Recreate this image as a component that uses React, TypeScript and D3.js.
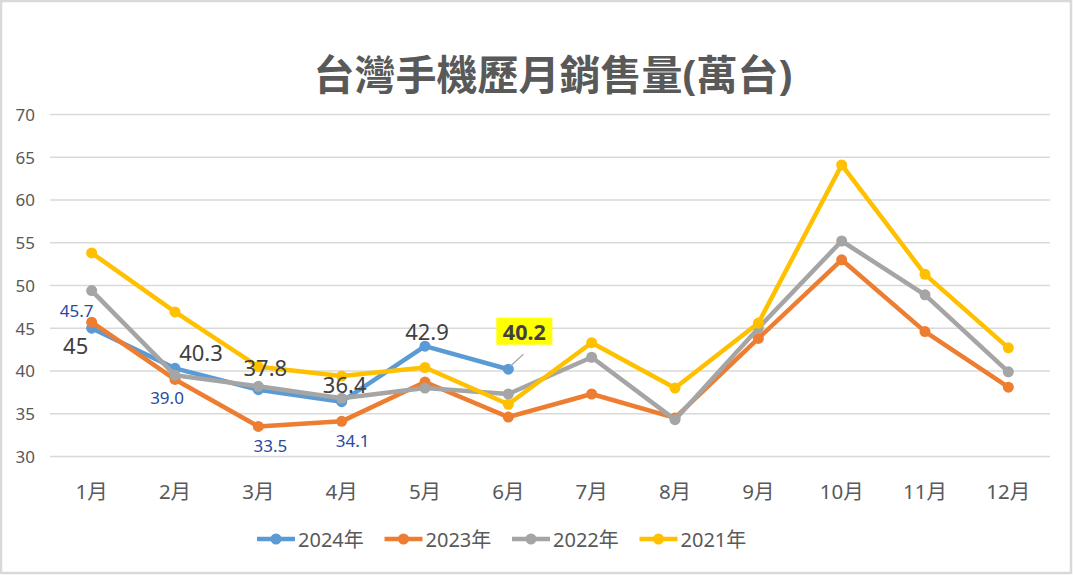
import React from 'react';
import * as d3 from 'd3';

const months = ['1月', '2月', '3月', '4月', '5月', '6月', '7月', '8月', '9月', '10月', '11月', '12月'];
const seriesNames = ['2024年', '2023年', '2022年', '2021年'];
const sales2024 = [45, 40.3, 37.8, 36.4, 42.9, 40.2];
const sales2023 = [45.7, 39.0, 33.5, 34.1, 38.7, 34.6, 37.3, 34.5, 43.8, 53.0, 44.6, 38.1];
const sales2022 = [49.4, 39.5, 38.2, 36.8, 38.0, 37.3, 41.6, 34.3, 45.0, 55.2, 48.9, 39.9];
const sales2021 = [53.8, 46.9, 40.5, 39.4, 40.4, 36.1, 43.3, 38.0, 45.6, 64.1, 51.3, 42.7];
const yTicks = [30, 35, 40, 45, 50, 55, 60, 65, 70];
const colors = ['#5b9bd5', '#ed7d31', '#a5a5a5', '#ffc000'];

// label offsets from the point (layout only)
const off2024 = [[-16, 17], [26, -16], [7, -23], [3, -18], [2, -15], [16, -38]];
const off2023 = [[-15, -12], [-8, 18], [12, 19], [11, 19]];

const W = 1073, H = 575;
const font = '"Noto Sans", "Noto Sans CJK TC", sans-serif';

export default function App() {
  const x = d3.scaleBand<string>().domain(months).range([50, 1050]);
  const cx = (i: number) => (x(months[i]) as number) + x.bandwidth() / 2;
  const y = d3.scaleLinear().domain([30, 70]).range([456.4, 114.5]);
  const line = d3.line<number>().x((_, i) => cx(i)).y(d => y(d));
  const all = [sales2024, sales2023, sales2022, sales2021];

  const p6 = [cx(5), y(sales2024[5])];
  const box = [p6[0] + off2024[5][0], p6[1] + off2024[5][1]];

  return (
    <div style={{ position: 'absolute', left: 0, top: 0 }}>
      <svg width={W} height={H} style={{ display: 'block', fontFamily: font }}>
        <rect x={0} y={0} width={W} height={H} fill="#fff" />
        <rect x={1} y={1} width={W - 3} height={H - 3} fill="none" stroke="#d9d9d9" strokeWidth={2.5} />
        <text x={553} y={74} textAnchor="middle" dominantBaseline="central" fontSize={41} fontWeight="bold" fill="#595959">
          台灣手機歷月銷售量(萬台)
        </text>
        {yTicks.map(t => (
          <g key={t}>
            <line x1={50} x2={1050} y1={y(t)} y2={y(t)} stroke="#d9d9d9" strokeWidth={1.5} />
            <text x={35} y={y(t)} textAnchor="end" dominantBaseline="central" fontSize={17} fill="#595959">{t}</text>
          </g>
        ))}
        {months.map((m, i) => (
          <text key={m} x={cx(i)} y={491} textAnchor="middle" dominantBaseline="central" fontSize={20.5} fill="#595959">{m}</text>
        ))}
        {all.map((s, k) => (
          <g key={k}>
            <path d={line(s) as string} fill="none" stroke={colors[k]} strokeWidth={4.5} strokeLinejoin="round" />
            {s.map((v, i) => <circle key={i} cx={cx(i)} cy={y(v)} r={5.5} fill={colors[k]} />)}
          </g>
        ))}
        {sales2024.slice(0, 5).map((v, i) => (
          <text key={i} x={cx(i) + off2024[i][0]} y={y(v) + off2024[i][1]} textAnchor="middle" dominantBaseline="central" fontSize={22} fill="#404040">{String(v)}</text>
        ))}
        {off2023.map((o, i) => (
          <text key={i} x={cx(i) + o[0]} y={y(sales2023[i]) + o[1]} textAnchor="middle" dominantBaseline="central" fontSize={17} fill="#2a48a6">{sales2023[i].toFixed(1)}</text>
        ))}
        <line x1={p6[0] + 2} y1={p6[1] - 3} x2={p6[0] + 15} y2={p6[1] - 15} stroke="#a5a5a5" strokeWidth={1.2} />
        <rect x={box[0] - 28} y={box[1] - 13.5} width={56} height={27} fill="#ffff00" />
        <text x={box[0]} y={box[1]} textAnchor="middle" dominantBaseline="central" fontSize={21.5} fontWeight="bold" fill="#404040">{String(sales2024[5])}</text>
        {seriesNames.map((n, k) => {
          const lx = 257 + k * 127.5;
          return (
            <g key={n}>
              <line x1={lx} x2={lx + 38} y1={539} y2={539} stroke={colors[k]} strokeWidth={4.5} />
              <circle cx={lx + 19} cy={539} r={5.5} fill={colors[k]} />
              <text x={lx + 41} y={539} dominantBaseline="central" fontSize={20} fill="#595959">{n}</text>
            </g>
          );
        })}
      </svg>
    </div>
  );
}
